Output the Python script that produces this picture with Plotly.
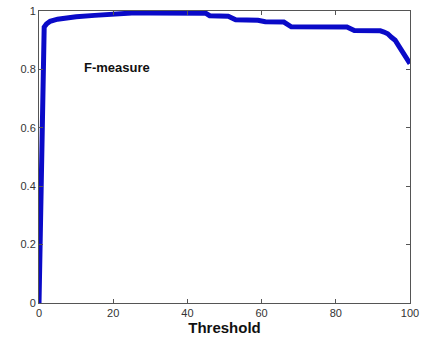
import plotly.graph_objects as go

threshold = [0, 0.5, 1.0, 1.4, 2, 3, 5, 8, 10, 15, 20, 25, 30, 35, 40, 45, 46, 51, 53, 59, 61, 66, 68, 75, 80, 83, 85, 90, 92, 93, 94, 95, 96, 97, 98, 99, 100]
fmeasure = [0.0, 0.3, 0.7, 0.945, 0.955, 0.965, 0.972, 0.978, 0.98, 0.985, 0.99, 0.993, 0.993, 0.993, 0.993, 0.992, 0.984, 0.982, 0.97, 0.968, 0.963, 0.962, 0.946, 0.946, 0.945, 0.945, 0.933, 0.933, 0.932, 0.928, 0.922, 0.91, 0.9, 0.88, 0.86, 0.84, 0.82]
xticks = [0, 20, 40, 60, 80, 100]
yticks = [0, 0.2, 0.4, 0.6, 0.8, 1]
ytick_text = ["0", "0.2", "0.4", "0.6", "0.8", "1"]

fig = go.Figure()
fig.add_trace(go.Scatter(x=threshold, y=fmeasure, mode="lines",
                         line=dict(color="rgb(10,10,200)", width=5), showlegend=False))

axis_common = dict(showgrid=False, zeroline=False, showline=True, linecolor="#555555",
                   linewidth=1, mirror="allticks", ticks="inside", ticklen=4, automargin=False,
                   tickcolor="#555555", tickfont=dict(family="Arial, Liberation Sans", size=11, color="#333333"))
fig.update_xaxes(range=[0, 100], tickvals=xticks, **axis_common,
                 title=dict(text="<b>Threshold</b>", font=dict(family="Arial, Liberation Sans", size=15, color="#111111"), standoff=0))
fig.update_yaxes(range=[0, 1], tickvals=yticks, ticktext=ytick_text, **axis_common)

fig.add_annotation(x=11.5, y=0.807, xanchor="left", yanchor="middle", text="<b>F-measure</b>",
                   showarrow=False, font=dict(family="Arial, Liberation Sans", size=13, color="#111111"))

fig.update_layout(width=424, height=341, margin=dict(l=39, r=14, t=11, b=38),
                  plot_bgcolor="white", paper_bgcolor="white")
fig.write_html("out.html", config={"displayModeBar": False},
               post_script="document.body.style.margin='0';")
